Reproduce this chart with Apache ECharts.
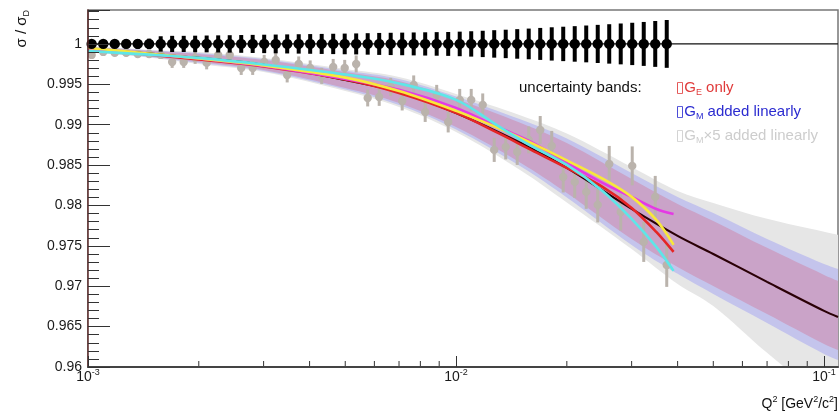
<!DOCTYPE html>
<html><head><meta charset="utf-8">
<script src="https://cdn.jsdelivr.net/npm/echarts@6/dist/echarts.min.js"></script>
<style>html,body{margin:0;padding:0;background:#fff}#c{width:840px;height:414px}</style>
</head><body><div id="c"></div>
<script>
// ---- band knots (Q^2) and band boundaries (sigma/sigma_D) ----
const Q2_BAND = [0.001, 0.0015, 0.002, 0.003, 0.005, 0.007, 0.01, 0.015, 0.02, 0.03, 0.04, 0.05, 0.07, 0.1, 0.1091];
const CENTRAL = [0.99938, 0.99876, 0.99827, 0.99740, 0.99554, 0.99406, 0.99146, 0.98774, 0.98465, 0.97957, 0.97623, 0.97400, 0.97054, 0.96695, 0.96620];
const GE_HI  = [0.99963, 0.99913, 0.99876, 0.99802, 0.99653, 0.99542, 0.99319, 0.99022, 0.98774, 0.98329, 0.98019, 0.97809, 0.97475, 0.97140, 0.97066];
const GE_LO  = [0.99913, 0.99839, 0.99777, 0.99678, 0.99455, 0.99270, 0.98972, 0.98527, 0.98155, 0.97586, 0.97239, 0.97004, 0.96657, 0.96286, 0.96212];
const GM_HI  = [0.99969, 0.99920, 0.99889, 0.99814, 0.99672, 0.99567, 0.99350, 0.99065, 0.98830, 0.98403, 0.98106, 0.97908, 0.97586, 0.97276, 0.97215];
const GM_LO  = [0.99907, 0.99833, 0.99765, 0.99666, 0.99437, 0.99245, 0.98942, 0.98483, 0.98100, 0.97512, 0.97153, 0.96905, 0.96546, 0.96162, 0.96088];
const GM5_HI = [0.99975, 0.99926, 0.99901, 0.99827, 0.99690, 0.99591, 0.99381, 0.99115, 0.98892, 0.98477, 0.98180, 0.98032, 0.97834, 0.97673, 0.97636];
const GM5_LO = [0.99901, 0.99827, 0.99752, 0.99653, 0.99418, 0.99220, 0.98911, 0.98434, 0.98038, 0.97462, 0.97029, 0.96756, 0.96175, 0.95605, 0.95469];

// ---- fit curves ----
const Q2_FIT = [0.001, 0.0015, 0.002, 0.003, 0.005, 0.007, 0.01, 0.013, 0.016, 0.02, 0.025, 0.03, 0.035, 0.039];
const FIT_RED     = [0.99938, 0.99864, 0.99808, 0.99720, 0.99559, 0.99393, 0.99146, 0.98898, 0.98688, 0.98465, 0.98230, 0.97970, 0.97673, 0.97425];
const FIT_MAGENTA = [0.99938, 0.99870, 0.99820, 0.99728, 0.99567, 0.99431, 0.99208, 0.98972, 0.98787, 0.98527, 0.98279, 0.98106, 0.97957, 0.97895];
const FIT_YELLOW  = [0.99950, 0.99876, 0.99820, 0.99733, 0.99583, 0.99416, 0.99171, 0.98960, 0.98774, 0.98558, 0.98332, 0.98106, 0.97821, 0.97512];
const FIT_CYAN    = [0.99913, 0.99864, 0.99827, 0.99746, 0.99622, 0.99511, 0.99307, 0.98985, 0.98737, 0.98502, 0.98180, 0.97834, 0.97487, 0.97190];

// ---- data points (bins) ----
const Q2_BINS = [0.001023, 0.0011, 0.001182, 0.00127, 0.001365, 0.001466, 0.001576, 0.001693, 0.00182, 0.001955,
  0.002101, 0.002258, 0.002427, 0.002608, 0.002802, 0.003011, 0.003236, 0.003477, 0.003737, 0.004015,
  0.004315, 0.004637, 0.004983, 0.005354, 0.005754, 0.006183, 0.006644, 0.00714, 0.007673, 0.008245,
  0.00886, 0.009521, 0.010233, 0.010996, 0.011817, 0.012698, 0.013646, 0.014664, 0.015758, 0.016933,
  0.018197, 0.019554, 0.021013, 0.02258, 0.024266, 0.026075, 0.02802, 0.030111, 0.032359, 0.034772, 0.037367];
const BLACK_Y = [1,1,1,1,1,1,1,1,1,1, 1,1,1,1,1,1,1,1,1,1, 1,1,1,1,1,1,1,1,1,1, 1,1,1,1,1,1,1,1,1,1, 1,1,1,1,1,1,1,1,1,1, 1];
const BLACK_ERR = [0.0004,0.00045,0.0005,0.00055,0.0006,0.00065,0.00095,0.001,0.001,0.00102,
  0.00104,0.00106,0.00108,0.0011,0.00112,0.00114,0.00116,0.00118,0.0012,0.00122,
  0.00124,0.00126,0.00128,0.0013,0.00133,0.00136,0.00138,0.0014,0.00142,0.00144,
  0.00146,0.00148,0.00152,0.00157,0.00163,0.0017,0.00176,0.00183,0.0019,0.00198,
  0.00206,0.00213,0.0022,0.00228,0.00236,0.00244,0.00253,0.00262,0.00272,0.00284,0.00296];
const GRAY_Y = [0.99864,0.99901,0.99889,0.99889,0.99876,0.99876,0.99864,0.99777,0.99777,0.99827,
  0.99765,0.99864,0.99864,0.99703,0.99703,0.99777,0.99802,0.99616,0.99752,0.99703,
  0.99604,0.99715,0.99703,0.99752,0.99331,0.99344,0.99468,0.99294,0.99492,0.99158,
  0.99369,0.99034,0.99307,0.99307,0.99245,0.98688,0.98725,0.98663,0.98812,0.98935,
  0.98737,0.98353,0.98292,0.98168,0.98007,0.98514,0.97920,0.98490,0.97549,0.98106,0.97264];
const GRAY_ERR = [0.00037,0.00037,0.00037,0.00043,0.00043,0.0005,0.0005,0.00074,0.00074,0.00074,
  0.0008,0.0008,0.0008,0.00087,0.00087,0.00087,0.00087,0.00093,0.00093,0.00093,
  0.00099,0.00099,0.00099,0.00105,0.00105,0.00111,0.00111,0.00118,0.00118,0.00124,
  0.00124,0.0013,0.00136,0.00136,0.00142,0.00149,0.00155,0.00161,0.00167,0.00173,
  0.00186,0.00192,0.00198,0.0021,0.00217,0.00223,0.00229,0.00241,0.00248,0.0026,0.00272];

// ---- axis ticks ----
const X_MINOR_TICKS = [0.002,0.003,0.004,0.005,0.006,0.007,0.008,0.009,0.02,0.03,0.04,0.05,0.06,0.07,0.08,0.09];
const Y_MIN = 0.96, Y_MAX = 1.0042, X_MIN = 0.001, X_MAX = 0.1091;

const FONT = "'Liberation Sans', Arial, 'DejaVu Sans', sans-serif";
const pairs = (xs, ys) => xs.map((x, i) => [x, ys[i]]);

// each boundary is filled down to the axis minimum; layered so the bands nest
function bandEdge(vals, color) {
  return {type: 'line', data: pairs(Q2_BAND, vals), symbol: 'none', smooth: 0.35, silent: true,
    lineStyle: {opacity: 0, width: 0}, areaStyle: {color: color, opacity: 1, origin: 'start'}, z: 1};
}
function fitLine(vals, color) {
  return {type: 'line', data: pairs(Q2_FIT, vals), symbol: 'none', smooth: 0.35, silent: true,
    lineStyle: {color: color, width: 2.6}, z: 3};
}
function errSeries(ys, es, color, lw, r, z) {
  return {type: 'custom', z: z, clip: false, silent: true,
    data: Q2_BINS.map((x, i) => [x, ys[i], es[i]]), encode: {x: 0, y: 1},
    renderItem: (p, api) => {
      const x = api.value(0), y = api.value(1), e = api.value(2);
      const c = api.coord([x, y]), t = api.coord([x, y + e]), b = api.coord([x, y - e]);
      return {type: 'group', children: [
        {type: 'line', shape: {x1: c[0], y1: t[1], x2: c[0], y2: b[1]}, style: {stroke: color, lineWidth: lw}},
        {type: 'circle', shape: {cx: c[0], cy: c[1], r: r}, style: {fill: color}}
      ]};
    }};
}

const GRAY_BAND = '#e6e6e6', BLUE_BAND = '#c4c4ec', PINK_BAND = '#caa3c8';

const chart = echarts.init(document.getElementById('c'), null, {renderer: 'canvas'});
chart.setOption({
  animation: false,
  backgroundColor: '#ffffff',
  grid: {left: 88, right: 2, top: 10, bottom: 47, show: true, borderColor: '#777', borderWidth: 1.5, backgroundColor: 'transparent'},
  xAxis: {
    type: 'log', logBase: 10, min: X_MIN, max: X_MAX, z: 10,
    axisLine: {lineStyle: {color: '#444', width: 2}},
    axisTick: {inside: true, length: 11, lineStyle: {color: '#333', width: 1}},
    splitLine: {show: false},
    axisLabel: {
      margin: 1, showMaxLabel: false, color: '#1a1a1a', fontFamily: FONT,
      formatter: v => { const e = Math.round(Math.log10(v)); return '{b|10}{s|' + (e < 0 ? '-' : '') + Math.abs(e) + '}'; },
      rich: {b: {fontSize: 14, lineHeight: 18, fontFamily: FONT, color: '#1a1a1a'},
             s: {fontSize: 9, lineHeight: 10, verticalAlign: 'top', fontFamily: FONT, color: '#1a1a1a'}}
    }
  },
  yAxis: [{
    type: 'value', min: Y_MIN, max: Y_MAX, interval: 0.001, z: 10,
    axisLine: {show: true, lineStyle: {color: '#5a2828', width: 1.5}},
    axisTick: {inside: true, length: 11, lineStyle: {color: '#333'}},
    splitLine: {show: false},
    axisLabel: {
      margin: 6, showMaxLabel: false, fontSize: 14, color: '#1a1a1a', fontFamily: FONT,
      formatter: v => (Math.abs(v * 200 - Math.round(v * 200)) < 1e-6) ? String(+v.toFixed(3)) : ''
    }
  }, {
    type: 'value', min: Y_MIN, max: Y_MAX, interval: 0.005, position: 'left', z: 10,
    axisLine: {show: false}, axisLabel: {show: false}, splitLine: {show: false},
    axisTick: {inside: true, length: 22, lineStyle: {color: '#333'}}
  }],
  series: [
    bandEdge(GM5_HI, GRAY_BAND),
    bandEdge(GM_HI, BLUE_BAND),
    bandEdge(GE_HI, PINK_BAND),
    bandEdge(GE_LO, BLUE_BAND),
    bandEdge(GM_LO, GRAY_BAND),
    bandEdge(GM5_LO, '#ffffff'),
    {type: 'line', data: pairs(Q2_BAND, CENTRAL), symbol: 'none', smooth: 0.35, silent: true,
     lineStyle: {color: '#2a0006', width: 2.2}, z: 2},
    errSeries(GRAY_Y, GRAY_ERR, '#bab3ac', 3, 4.2, 2),
    fitLine(FIT_RED, '#e52525'),
    fitLine(FIT_MAGENTA, '#e43ae4'),
    fitLine(FIT_YELLOW, '#f8e83a'),
    fitLine(FIT_CYAN, '#5ee6e8'),
    {type: 'line', data: [[X_MIN, 1], [X_MAX, 1]], symbol: 'none', silent: true,
     lineStyle: {color: '#111', width: 1.2}, z: 4},
    errSeries(BLACK_Y, BLACK_ERR, '#000000', 4, 5.2, 5),
    {type: 'custom', z: 6, clip: false, silent: true,
     data: X_MINOR_TICKS.map(v => [v, Y_MIN]), encode: {x: 0, y: 1},
     renderItem: (p, api) => {
       const c = api.coord([api.value(0), api.value(1)]);
       return {type: 'line', shape: {x1: c[0], y1: c[1], x2: c[0], y2: c[1] - 6}, style: {stroke: '#333', lineWidth: 1}};
     }}
  ],
  graphic: [
    {type: 'text', x: 519, y: 88, silent: true,
     style: {text: 'uncertainty bands:', fontSize: 15, fontFamily: FONT, fill: '#111', verticalAlign: 'middle'}},
    {type: 'text', x: 676, y: 88, silent: true,
     style: {text: '\u25AFG{s|E} only', fontSize: 15, lineHeight: 18, fontFamily: FONT, fill: '#e03a3a', verticalAlign: 'middle',
       rich: {s: {fontSize: 9, lineHeight: 9, verticalAlign: 'bottom', fill: '#e03a3a', fontFamily: FONT}}}},
    {type: 'text', x: 676, y: 112, silent: true,
     style: {text: '\u25AFG{s|M} added linearly', fontSize: 15, lineHeight: 18, fontFamily: FONT, fill: '#2b2bd0', verticalAlign: 'middle',
       rich: {s: {fontSize: 9, lineHeight: 9, verticalAlign: 'bottom', fill: '#2b2bd0', fontFamily: FONT}}}},
    {type: 'text', x: 676, y: 136, silent: true,
     style: {text: '\u25AFG{s|M}\u00D75 added linearly', fontSize: 15, lineHeight: 18, fontFamily: FONT, fill: '#cdcdcd', verticalAlign: 'middle',
       rich: {s: {fontSize: 9, lineHeight: 9, verticalAlign: 'bottom', fill: '#cdcdcd', fontFamily: FONT}}}},
    {type: 'text', x: 22, y: 10, rotation: Math.PI / 2, silent: true,
     style: {text: '\u03C3 / \u03C3{s|D}', fontSize: 15, lineHeight: 18, fontFamily: FONT, fill: '#111', align: 'right', verticalAlign: 'middle',
       rich: {s: {fontSize: 9, lineHeight: 9, verticalAlign: 'bottom', fill: '#111', fontFamily: FONT}}}},
    {type: 'text', x: 838, y: 404, silent: true,
     style: {text: 'Q{p|2} [GeV{p|2}/c{p|2}]', fontSize: 14, lineHeight: 18, fontFamily: FONT, fill: '#111', align: 'right', verticalAlign: 'middle',
       rich: {p: {fontSize: 9, lineHeight: 9, verticalAlign: 'top', fill: '#111', fontFamily: FONT}}}}
  ]
});
</script></body></html>
